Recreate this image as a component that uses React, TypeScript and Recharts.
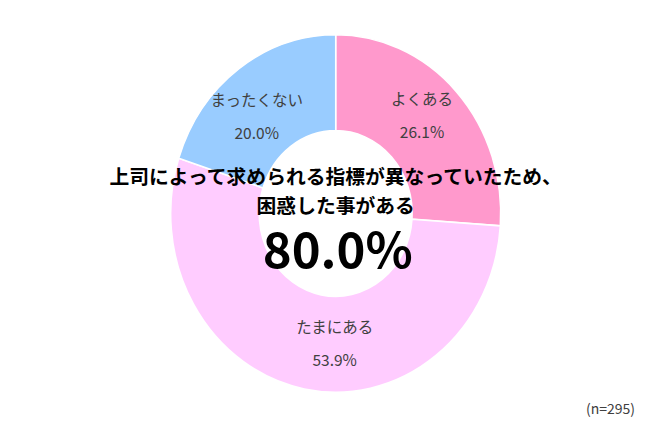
import React from 'react';
import { PieChart, Pie, Cell } from 'recharts';

const categories = ['よくある', 'たまにある', 'まったくない'];
const shares = [26.1, 53.9, 20.0];
const colors = ['#FF99CC', '#FFCCFF', '#99CCFF'];
const titleLines = ['上司によって求められる指標が異なっていたため、', '困惑した事がある'];
const headline = '80.0%';
const sampleNote = '(n=295)';

// Excel nudged its labels a little away from the mid angle
const labelNudge: Record<string, [number, number]> = {
  'よくある': [-2, -8],
  'たまにある': [22, 2],
  'まったくない': [-8, 9],
};

const data = categories.map((name, i) => ({ name, value: shares[i] }));

const W = 670;
const H = 426;
const CX = 335.7;
const CY = 213.5;
// the original doughnut is slightly taller than wide
const K = 1.083;
const RAD = Math.PI / 180;

const renderLabel = (props: any) => {
  const { cx, cy, midAngle, innerRadius, outerRadius, name, value } = props;
  const r = (innerRadius + outerRadius) / 2;
  const [dx, dy] = labelNudge[name] || [0, 0];
  const x = cx + r * Math.cos(-midAngle * RAD) + dx;
  const y = cy + r * Math.sin(-midAngle * RAD) + dy / K;
  return (
    <g transform={`translate(${x} ${y}) scale(1 ${1 / K})`}>
      <text
        x={0}
        y={-11}
        textAnchor="middle"
        fill="#404040"
        fontSize={15.5}
        fontFamily="'Noto Sans CJK JP', sans-serif"
      >
        {name}
      </text>
      <text
        x={0}
        y={22}
        textAnchor="middle"
        fill="#404040"
        fontSize={15.5}
        fontFamily="'Noto Sans CJK JP', sans-serif"
      >
        {Number(value).toFixed(1)}%
      </text>
    </g>
  );
};

export default function App() {
  return (
    <div style={{ position: 'absolute', left: 0, top: 0, width: W, height: H, background: '#fff', overflow: 'hidden' }}>
      <div style={{ position: 'absolute', left: 0, top: 0, width: W, height: H, transform: `scaleY(${K})`, transformOrigin: `${CX}px ${CY}px` }}>
        <PieChart width={W} height={H} margin={{ top: 0, right: 0, bottom: 0, left: 0 }}>
          <Pie
            data={data}
            dataKey="value"
            nameKey="name"
            cx={CX}
            cy={CY}
            innerRadius={76.5}
            outerRadius={165}
            startAngle={90}
            endAngle={-270}
            stroke="#ffffff"
            strokeWidth={1.5}
            label={renderLabel}
            labelLine={false}
            isAnimationActive={false}
          >
            {data.map((d, i) => (
              <Cell key={d.name} fill={colors[i]} />
            ))}
          </Pie>
        </PieChart>
      </div>
      <svg
        width={W}
        height={H}
        style={{ position: 'absolute', left: 0, top: 0, pointerEvents: 'none' }}
        fontFamily="'Noto Sans CJK JP', sans-serif"
      >
        <text x={CX} y={183.5} textAnchor="middle" fontSize={19.8} fontWeight="bold" fill="#000">
          {titleLines[0]}
        </text>
        <text x={CX} y={212.5} textAnchor="middle" fontSize={19.8} fontWeight="bold" fill="#000">
          {titleLines[1]}
        </text>
        <text x={CX + 2} y={268} textAnchor="middle" fontSize={49} fontWeight="bold" fill="#000">
          {headline}
        </text>
        <text x={635} y={414} textAnchor="end" fontSize={14} fill="#404040">
          {sampleNote}
        </text>
      </svg>
    </div>
  );
}
